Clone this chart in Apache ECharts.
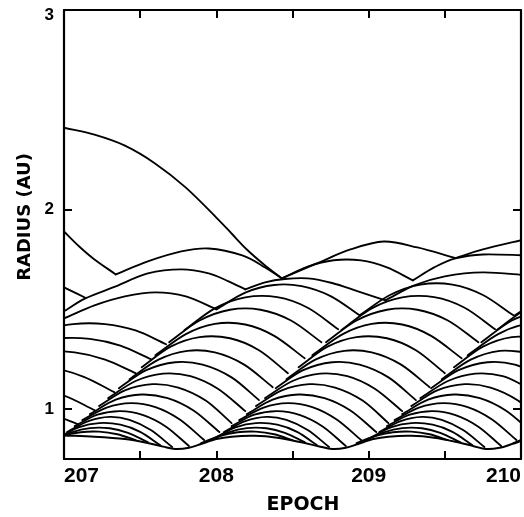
<!DOCTYPE html>
<html><head><meta charset="utf-8">
<script src="https://cdn.jsdelivr.net/npm/echarts@6/dist/echarts.min.js"></script>
<style>html,body{margin:0;padding:0;background:#fff}#c{width:524px;height:517px}</style>
</head><body><div id="c"></div>
<script>
// axis ticks / labels
const xTicks = [207.5, 208, 208.5, 209, 209.5];
const xLabels = [207, 208, 209, 210];
const yTicks = [1, 2];
const yLabels = [1, 2, 3];

// bottom curve (inner boundary)
const piston = [[207.0,0.868],[207.2,0.862],[207.4,0.85],[207.55,0.83],[207.65,0.812],[207.73,0.80],[207.82,0.806],[207.9,0.825],[208.0,0.85],[208.1,0.862],[208.25,0.866],[208.4,0.857],[208.55,0.835],[208.67,0.814],[208.76,0.80],[208.85,0.806],[208.93,0.825],[209.03,0.85],[209.13,0.862],[209.28,0.866],[209.43,0.857],[209.58,0.835],[209.69,0.814],[209.77,0.80],[209.86,0.806],[209.94,0.825],[210.0,0.84]];

// upper, irregular trajectories
const upperArcs = [
 [[207.0,2.41],[207.2,2.375],[207.4,2.32],[207.6,2.23],[207.8,2.11],[208.0,1.96],[208.1,1.88],[208.2,1.8],[208.32,1.72],[208.43,1.655]],
 [[207.0,1.89],[207.1,1.815],[207.2,1.75],[207.34,1.675]],
 [[207.34,1.675],[207.55,1.74],[207.77,1.79],[207.95,1.805],[208.17,1.77],[208.32,1.71],[208.43,1.655]],
 [[206.9,1.645],[207.0,1.61],[207.14,1.558]],
 [[207.0,1.49],[207.14,1.555],[207.34,1.615],[207.55,1.68],[207.77,1.70],[207.95,1.68],[208.08,1.64],[208.19,1.60]],
 [[206.85,1.41],[207.0,1.455],[207.2,1.52],[207.4,1.565],[207.6,1.585],[207.8,1.565],[208.0,1.50]]
];

// trajectories falling back before the first shock front
const cycle0Arcs = [
 [[206.66,1.33],[206.86,1.394],[207.06,1.426],[207.27,1.426],[207.47,1.394],[207.67,1.325]],
 [[206.56,1.26],[206.76,1.322],[206.96,1.354],[207.17,1.352],[207.37,1.318],[207.57,1.25]],
 [[206.46,1.20],[206.66,1.26],[206.86,1.288],[207.07,1.284],[207.27,1.248],[207.47,1.18]],
 [[206.32,1.12],[206.52,1.183],[206.72,1.212],[206.93,1.205],[207.13,1.162],[207.33,1.085]],
 [[206.2,1.02],[206.4,1.079],[206.6,1.106],[206.8,1.102],[207.0,1.068],[207.2,0.995]],
 [[206.1,0.95],[206.3,0.997],[206.5,1.017],[206.7,1.012],[206.89,0.981],[207.09,0.925]]
];

const cycle1Arcs = [
 [[206.87,0.83],[206.99,0.865],[207.11,0.884],[207.23,0.887],[207.35,0.874],[207.47,0.845]],
 [[206.92,0.84],[207.05,0.884],[207.17,0.905],[207.30,0.904],[207.42,0.881],[207.55,0.835]],
 [[206.97,0.86],[207.10,0.91],[207.23,0.93],[207.37,0.922],[207.50,0.886],[207.63,0.82]],
 [[207.02,0.885],[207.16,0.94],[207.30,0.961],[207.43,0.946],[207.57,0.895],[207.71,0.81]],
 [[207.07,0.915],[207.22,0.972],[207.37,0.99],[207.52,0.97],[207.67,0.912],[207.82,0.815]],
 [[207.12,0.945],[207.28,1.008],[207.44,1.03],[207.60,1.01],[207.76,0.948],[207.92,0.845]],
 [[207.17,0.975],[207.34,1.047],[207.51,1.073],[207.68,1.055],[207.85,0.993],[208.02,0.885]],
 [[207.23,1.015],[207.40,1.094],[207.58,1.125],[207.75,1.108],[207.93,1.043],[208.10,0.93]],
 [[207.29,1.055],[207.47,1.141],[207.65,1.178],[207.83,1.165],[208.01,1.102],[208.19,0.99]],
 [[207.36,1.105],[207.54,1.195],[207.73,1.235],[207.91,1.223],[208.10,1.159],[208.28,1.045]],
 [[207.43,1.15],[207.62,1.248],[207.81,1.292],[207.99,1.284],[208.18,1.224],[208.37,1.11]],
 [[207.51,1.21],[207.70,1.313],[207.89,1.361],[208.09,1.355],[208.28,1.295],[208.47,1.18]],
 [[207.60,1.27],[207.80,1.376],[207.99,1.427],[208.19,1.424],[208.38,1.367],[208.58,1.255]],
 [[207.69,1.335],[207.89,1.444],[208.09,1.498],[208.29,1.498],[208.49,1.444],[208.69,1.335]],
 [[207.79,1.395],[207.99,1.505],[208.19,1.56],[208.40,1.561],[208.60,1.508],[208.80,1.40]],
 [[208.0,1.50],[208.19,1.584],[208.38,1.622],[208.56,1.616],[208.75,1.566],[208.94,1.47]],
 [[208.19,1.60],[208.32,1.635],[208.45,1.652],[208.6,1.655],[208.76,1.632],[208.93,1.59],[209.11,1.545]],
 [[208.43,1.655],[208.60,1.714],[208.77,1.746],[208.95,1.745],[209.12,1.71],[209.29,1.645]],
 [[208.43,1.655],[208.66,1.73],[208.88,1.80],[209.10,1.84],[209.32,1.81],[209.57,1.757]]
];

const cycle2Arcs = [
 [[207.90,0.83],[208.02,0.865],[208.14,0.884],[208.26,0.887],[208.38,0.874],[208.50,0.845]],
 [[207.95,0.84],[208.08,0.884],[208.20,0.905],[208.33,0.904],[208.45,0.881],[208.58,0.835]],
 [[208.00,0.86],[208.13,0.91],[208.26,0.93],[208.40,0.922],[208.53,0.886],[208.66,0.82]],
 [[208.05,0.885],[208.19,0.94],[208.33,0.961],[208.46,0.946],[208.60,0.895],[208.74,0.81]],
 [[208.10,0.915],[208.25,0.972],[208.40,0.99],[208.55,0.97],[208.70,0.912],[208.85,0.815]],
 [[208.15,0.945],[208.31,1.008],[208.47,1.03],[208.63,1.01],[208.79,0.948],[208.95,0.845]],
 [[208.20,0.975],[208.37,1.047],[208.54,1.073],[208.71,1.055],[208.88,0.993],[209.05,0.885]],
 [[208.26,1.015],[208.43,1.094],[208.61,1.125],[208.78,1.108],[208.96,1.043],[209.13,0.93]],
 [[208.32,1.055],[208.50,1.141],[208.68,1.178],[208.86,1.165],[209.04,1.102],[209.22,0.99]],
 [[208.39,1.105],[208.57,1.195],[208.76,1.235],[208.94,1.223],[209.13,1.159],[209.31,1.045]],
 [[208.46,1.15],[208.65,1.248],[208.84,1.292],[209.02,1.284],[209.21,1.224],[209.40,1.11]],
 [[208.54,1.21],[208.73,1.313],[208.92,1.361],[209.12,1.355],[209.31,1.295],[209.50,1.18]],
 [[208.63,1.27],[208.83,1.376],[209.02,1.427],[209.22,1.424],[209.41,1.367],[209.61,1.255]],
 [[208.72,1.335],[208.92,1.444],[209.12,1.498],[209.32,1.498],[209.52,1.444],[209.72,1.335]],
 [[208.82,1.395],[209.02,1.505],[209.22,1.56],[209.43,1.561],[209.63,1.508],[209.83,1.40]],
 [[208.94,1.47],[209.14,1.572],[209.34,1.624],[209.55,1.624],[209.75,1.572],[209.95,1.47]],
 [[209.11,1.545],[209.30,1.62],[209.50,1.665],[209.75,1.685],[210.05,1.67]],
 [[209.29,1.645],[209.43,1.71],[209.57,1.755],[209.75,1.775],[210.05,1.77]],
 [[209.57,1.757],[209.75,1.80],[210.05,1.855]]
];

const cycle3Arcs = [
 [[208.92,0.83],[209.04,0.865],[209.16,0.884],[209.28,0.887],[209.40,0.874],[209.52,0.845]],
 [[208.97,0.84],[209.10,0.884],[209.22,0.905],[209.35,0.904],[209.47,0.881],[209.60,0.835]],
 [[209.02,0.86],[209.15,0.91],[209.28,0.93],[209.42,0.922],[209.55,0.886],[209.68,0.82]],
 [[209.07,0.885],[209.21,0.94],[209.35,0.961],[209.48,0.946],[209.62,0.895],[209.76,0.81]],
 [[209.12,0.915],[209.27,0.972],[209.42,0.99],[209.57,0.97],[209.72,0.912],[209.87,0.815]],
 [[209.17,0.945],[209.33,1.008],[209.49,1.03],[209.65,1.01],[209.81,0.948],[209.97,0.845]],
 [[209.22,0.975],[209.39,1.047],[209.56,1.073],[209.73,1.055],[209.90,0.993],[210.07,0.885]],
 [[209.28,1.015],[209.45,1.094],[209.63,1.125],[209.80,1.108],[209.98,1.043],[210.15,0.93]],
 [[209.34,1.055],[209.52,1.141],[209.70,1.178],[209.88,1.165],[210.06,1.102]],
 [[209.41,1.105],[209.59,1.195],[209.78,1.235],[209.96,1.223],[210.15,1.159]],
 [[209.48,1.15],[209.67,1.248],[209.86,1.292],[210.04,1.284]],
 [[209.56,1.21],[209.75,1.313],[209.94,1.361],[210.14,1.355]],
 [[209.65,1.27],[209.85,1.376],[210.04,1.427],[210.24,1.424]],
 [[209.74,1.335],[209.94,1.444],[210.14,1.498]],
 [[209.84,1.395],[210.04,1.505],[210.24,1.56]],
 [[209.96,1.47],[210.16,1.572]]
];

const cycle4Arcs = [
 [[209.95,0.83],[210.07,0.865],[210.19,0.884]],
 [[210.0,0.84],[210.13,0.884]]
];

// smooth curve through the read points (Catmull-Rom drawn as cubic Beziers), in pixel space
function splinePath(pts) {
  const n = pts.length;
  let d = 'M' + pts[0][0].toFixed(2) + ' ' + pts[0][1].toFixed(2);
  for (let i = 0; i < n - 1; i++) {
    const p1 = pts[i], p2 = pts[i + 1];
    const p0 = i > 0 ? pts[i - 1] : [2 * p1[0] - p2[0], 2 * p1[1] - p2[1]];
    const p3 = i + 2 < n ? pts[i + 2] : [2 * p2[0] - p1[0], 2 * p2[1] - p1[1]];
    const c1 = [p1[0] + (p2[0] - p0[0]) / 6, p1[1] + (p2[1] - p0[1]) / 6];
    const c2 = [p2[0] - (p3[0] - p1[0]) / 6, p2[1] - (p3[1] - p1[1]) / 6];
    d += ' C' + c1[0].toFixed(2) + ' ' + c1[1].toFixed(2) + ' ' + c2[0].toFixed(2) + ' ' + c2[1].toFixed(2) + ' ' + p2[0].toFixed(2) + ' ' + p2[1].toFixed(2);
  }
  return d;
}

function curveSeries(arcs, width) {
  return {
    type: 'custom', coordinateSystem: 'cartesian2d', xAxisIndex: 0, yAxisIndex: 0,
    clip: true, silent: true, animation: false,
    data: arcs.map(a => a[0]),
    renderItem: function (params, api) {
      const pts = arcs[params.dataIndex].map(p => api.coord(p));
      return {type: 'path', shape: {pathData: splinePath(pts)},
              style: {stroke: '#000', fill: 'none', lineWidth: width, lineJoin: 'round', lineCap: 'round'}};
    }
  };
}

const W = 1.85;
const series = [
  curveSeries([piston], 2.0),
  curveSeries(upperArcs, W), curveSeries(cycle0Arcs, W), curveSeries(cycle1Arcs, W),
  curveSeries(cycle2Arcs, W), curveSeries(cycle3Arcs, W), curveSeries(cycle4Arcs, W)
];

const axisLine = {show: true, onZero: false, lineStyle: {color: '#000', width: 2.2}};
const tickStyle = {color: '#000', width: 2};
const labelFont = 'Liberation Sans, Arial, sans-serif';

const chart = echarts.init(document.getElementById('c'), null, {renderer: 'canvas'});
chart.setOption({
  animation: false,
  backgroundColor: '#fff',
  grid: {left: 64, right: 3, top: 10, bottom: 58, containLabel: false},
  xAxis: [{
    type: 'value', min: 207, max: 210, position: 'bottom',
    axisLine: axisLine,
    axisTick: {show: true, inside: true, length: 8, lineStyle: tickStyle, customValues: xTicks},
    axisLabel: {show: true, customValues: xLabels, color: '#000', fontSize: 21, fontWeight: 'bold',
      fontFamily: labelFont, margin: 7,
      alignMinLabel: 'left', alignMaxLabel: 'right', formatter: v => String(Math.round(v))},
    splitLine: {show: false}
  }, {
    type: 'value', min: 207, max: 210, position: 'top',
    axisLine: axisLine,
    axisTick: {show: true, inside: true, length: 8, lineStyle: tickStyle, customValues: xTicks},
    axisLabel: {show: false}, splitLine: {show: false}
  }],
  yAxis: [{
    type: 'value', min: 0.75, max: 3, position: 'left',
    axisLine: axisLine,
    axisTick: {show: true, inside: true, length: 8, lineStyle: tickStyle, customValues: yTicks},
    axisLabel: {show: true, customValues: yLabels, color: '#000', fontSize: 17, fontWeight: 'bold',
      fontFamily: labelFont, margin: 10,
      formatter: v => (Math.round(v) === 3 ? '{top|3}' : String(Math.round(v))),
      rich: {top: {fontSize: 17, fontWeight: 'bold', color: '#000', fontFamily: labelFont, padding: [11, 0, 0, 0]}}},
    splitLine: {show: false}
  }, {
    type: 'value', min: 0.75, max: 3, position: 'right',
    axisLine: axisLine,
    axisTick: {show: true, inside: true, length: 8, lineStyle: tickStyle, customValues: yTicks},
    axisLabel: {show: false}, splitLine: {show: false}
  }],
  graphic: [
    {type: 'text', x: 25, y: 217, rotation: Math.PI / 2,
     style: {text: 'RADIUS (AU)', font: 'bold 18px "DejaVu Sans", sans-serif', fill: '#000',
       textAlign: 'center', textVerticalAlign: 'middle'}},
    {type: 'text', x: 303, y: 505,
     style: {text: 'EPOCH', font: 'bold 19px "DejaVu Sans", sans-serif', fill: '#000',
       textAlign: 'center', textVerticalAlign: 'middle'}}
  ],
  series: series
});
</script>
</body></html>
